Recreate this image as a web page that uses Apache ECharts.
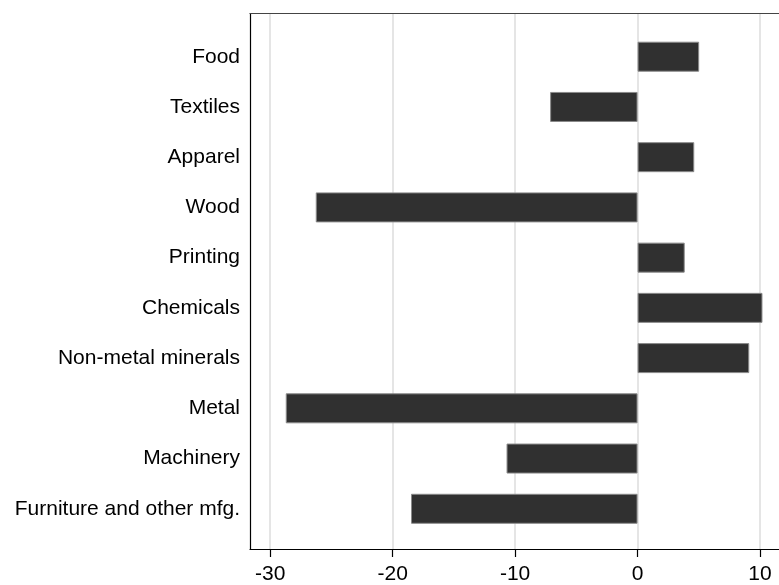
<!DOCTYPE html>
<html>
<head>
<meta charset="utf-8">
<script src="https://cdn.jsdelivr.net/npm/echarts@6/dist/echarts.min.js"></script>
<style>html,body{margin:0;padding:0;background:#fff}#c{width:779px;height:585px}</style>
</head>
<body>
<div id="c"></div>
<script>
var categories = ['Food','Textiles','Apparel','Wood','Printing','Chemicals','Non-metal minerals','Metal','Machinery','Furniture and other mfg.'];
var values = [5.03, -7.14, 4.63, -26.28, 3.85, 10.2, 9.12, -28.73, -10.7, -18.5];
var xTicks = [-30, -20, -10, 0, 10];

var xMin = -31.65, xMax = 11.55;
var font = 'Liberation Sans, Arial, sans-serif';
var chart = echarts.init(document.getElementById('c'), null, {renderer: 'canvas'});
chart.setOption({
  animation: false,
  backgroundColor: '#fff',
  grid: [
    {left: 250, right: 0, top: 13.5, bottom: 32.7, containLabel: false},
    {left: 250, right: 0, top: 31.6, bottom: 51.1, containLabel: false}
  ],
  xAxis: [
    {type: 'value', gridIndex: 0, min: xMin, max: xMax,
     axisLine: {show: true, onZero: false, lineStyle: {color: '#000', width: 1.2}},
     axisTick: {show: true, length: 8, customValues: xTicks, lineStyle: {color: '#000', width: 1.2}},
     axisLabel: {customValues: xTicks, color: '#000', fontSize: 21, fontFamily: font, margin: 15},
     splitLine: {show: true, lineStyle: {color: '#dcdcdc', width: 1.5}}},
    {type: 'value', gridIndex: 1, min: xMin, max: xMax, show: false, splitLine: {show: false}},
    {type: 'value', gridIndex: 0, position: 'top', min: xMin, max: xMax,
     axisLine: {show: true, onZero: false, lineStyle: {color: '#444', width: 1.2}},
     axisTick: {show: false}, axisLabel: {show: false}, splitLine: {show: false}}
  ],
  yAxis: [
    {type: 'value', gridIndex: 0, min: 0, max: 1,
     axisLine: {show: true, onZero: false, lineStyle: {color: '#000', width: 1.2}},
     axisTick: {show: false}, axisLabel: {show: false}, splitLine: {show: false}},
    {type: 'category', gridIndex: 1, data: categories, inverse: true,
     axisLine: {show: false, onZero: false}, axisTick: {show: false}, splitLine: {show: false},
     axisLabel: {color: '#000', fontSize: 21, fontFamily: font, margin: 10}}
  ],
  series: [{
    type: 'bar', xAxisIndex: 1, yAxisIndex: 1, data: values, barWidth: 30,
    itemStyle: {color: '#303030', borderColor: '#8a8a8a', borderWidth: 1}
  }]
});
</script>
</body>
</html>
